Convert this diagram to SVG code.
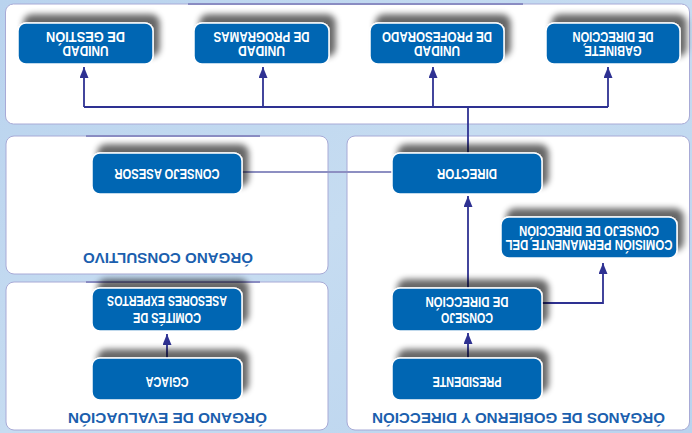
<svg xmlns="http://www.w3.org/2000/svg" width="692" height="433" viewBox="0 0 692 433">
<defs>
<linearGradient id="bg" x1="0" y1="0" x2="1" y2="1">
<stop offset="0" stop-color="#b9d3ee"/>
<stop offset="0.5" stop-color="#c6dcf1"/>
<stop offset="1" stop-color="#b9d3ee"/>
</linearGradient>
<filter id="sh" x="-20%" y="-40%" width="140%" height="180%">
<feGaussianBlur in="SourceAlpha" stdDeviation="3.2"/>
<feOffset dx="-6" dy="8" result="o"/>
<feComponentTransfer><feFuncA type="linear" slope="0.6"/></feComponentTransfer>
<feMerge><feMergeNode/><feMergeNode in="SourceGraphic"/></feMerge>
</filter>
<marker id="ah" markerUnits="userSpaceOnUse" markerWidth="12" markerHeight="9" refX="11" refY="4.5" orient="auto">
<path d="M0,0 L11,4.5 L0,9 z" fill="#2e3192"/>
</marker>
<style>
.panel{fill:#ffffff;stroke:#a8aad6;stroke-width:1}
.edge{stroke:#8a8cc2;stroke-width:2;fill:none}
.box{fill:#0066b3;stroke:#ffffff;stroke-width:1.5;filter:url(#sh)}
.nt{font-family:"Liberation Sans",Arial,sans-serif;font-weight:bold;font-size:15px;fill:#ffffff;text-anchor:middle}
.tt{font-family:"Liberation Sans",Arial,sans-serif;font-weight:bold;font-size:15.5px;fill:#1b5fae;text-anchor:middle}
.con{stroke:#2e3192;stroke-width:1.8;fill:none}
.arr{marker-end:url(#ah)}
.lite{stroke:#8d8fc2;stroke-width:1.8;fill:none}
</style>
</defs>
<rect x="0" y="0" width="692" height="433" fill="url(#bg)"/>
<g transform="rotate(180 346 216.5)">
<g id="panels">
<rect class="panel" x="2.5" y="309" width="684" height="120" rx="8"/>
<rect class="panel" x="364" y="159" width="322" height="138" rx="8"/>
<rect class="panel" x="2.5" y="3" width="342.5" height="294" rx="8"/>
<rect class="panel" x="364" y="3" width="322" height="148" rx="8"/>
<path class="edge" d="M169,429 H504"/>
<path class="edge" d="M432,297 H606"/>
<path class="edge" d="M432,151 H606"/>
<text class="tt" x="173.5" y="20" textLength="293" lengthAdjust="spacingAndGlyphs">ÓRGANOS DE GOBIERNO Y DIRECCIÓN</text>
<text class="tt" x="524.5" y="20" textLength="199" lengthAdjust="spacingAndGlyphs">ÓRGANO DE EVALUACIÓN</text>
<text class="tt" x="524" y="180" textLength="170" lengthAdjust="spacingAndGlyphs">ÓRGANO CONSULTIVO</text>
</g>
<g id="connectors">
<path class="con" d="M224,280 V326"/>
<path class="con" d="M84,326 H608"/>
<path class="con arr" d="M608,326 V366"/>
<path class="con arr" d="M429,326 V366"/>
<path class="con arr" d="M259,326 V366"/>
<path class="con arr" d="M84,326 V366"/>
<path class="lite" d="M300,261 H450"/>
<path class="con arr" d="M224,145 V237"/>
<path class="con arr" d="M224,75 V100"/>
<path class="con arr" d="M150,130 H89 V170"/>
<path class="con arr" d="M525,75 V99"/>
</g>
<g id="n-gestion">
<rect class="box" x="539" y="369" width="135" height="41" rx="8"/>
<text class="nt" x="606.5" y="387" textLength="46" lengthAdjust="spacingAndGlyphs">UNIDAD</text>
<text class="nt" x="606.5" y="401.5" textLength="79" lengthAdjust="spacingAndGlyphs">DE GESTIÓN</text>
</g>
<g id="n-programas">
<rect class="box" x="363" y="369" width="135" height="41" rx="8"/>
<text class="nt" x="430.5" y="387" textLength="47" lengthAdjust="spacingAndGlyphs">UNIDAD</text>
<text class="nt" x="430.5" y="401.5" textLength="96" lengthAdjust="spacingAndGlyphs">DE PROGRAMAS</text>
</g>
<g id="n-profesorado">
<rect class="box" x="188" y="369" width="134" height="41" rx="8"/>
<text class="nt" x="255" y="387" textLength="46" lengthAdjust="spacingAndGlyphs">UNIDAD</text>
<text class="nt" x="255" y="401.5" textLength="110" lengthAdjust="spacingAndGlyphs">DE PROFESORADO</text>
</g>
<g id="n-gabinete">
<rect class="box" x="12" y="369" width="134" height="41" rx="8"/>
<text class="nt" x="79" y="387" textLength="57" lengthAdjust="spacingAndGlyphs">GABINETE</text>
<text class="nt" x="79" y="401.5" textLength="81" lengthAdjust="spacingAndGlyphs">DE DIRECCIÓN</text>
</g>
<g id="n-director">
<rect class="box" x="150" y="239" width="150" height="41" rx="8"/>
<text class="nt" x="225" y="264.5" textLength="60" lengthAdjust="spacingAndGlyphs">DIRECTOR</text>
</g>
<g id="n-asesor">
<rect class="box" x="450" y="239" width="150" height="41" rx="8"/>
<text class="nt" x="525" y="264.5" textLength="105" lengthAdjust="spacingAndGlyphs">CONSEJO ASESOR</text>
</g>
<g id="n-comision">
<rect class="box" x="15" y="175" width="176" height="41" rx="8"/>
<text class="nt" x="103" y="193" textLength="167" lengthAdjust="spacingAndGlyphs">COMISIÓN PERMANENTE DEL</text>
<text class="nt" x="103" y="207.5" textLength="140" lengthAdjust="spacingAndGlyphs">CONSEJO DE DIRECCIÓN</text>
</g>
<g id="n-consejo-direccion">
<rect class="box" x="150" y="102" width="150" height="43" rx="8"/>
<text class="nt" x="225" y="120" textLength="52" lengthAdjust="spacingAndGlyphs">CONSEJO</text>
<text class="nt" x="225" y="136" textLength="83" lengthAdjust="spacingAndGlyphs">DE DIRECCIÓN</text>
</g>
<g id="n-presidente">
<rect class="box" x="150" y="33" width="150" height="42" rx="8"/>
<text class="nt" x="225" y="56.5" textLength="69" lengthAdjust="spacingAndGlyphs">PRESIDENTE</text>
</g>
<g id="n-comites">
<rect class="box" x="450" y="102" width="150" height="43" rx="8"/>
<text class="nt" x="525" y="120" textLength="68" lengthAdjust="spacingAndGlyphs">COMITÉS DE</text>
<text class="nt" x="525" y="137" textLength="120" lengthAdjust="spacingAndGlyphs">ASESORES EXPERTOS</text>
</g>
<g id="n-cgiaca">
<rect class="box" x="450" y="33" width="150" height="42" rx="8"/>
<text class="nt" x="525" y="56.5" textLength="43" lengthAdjust="spacingAndGlyphs">CGIACA</text>
</g>
</g>
</svg>
